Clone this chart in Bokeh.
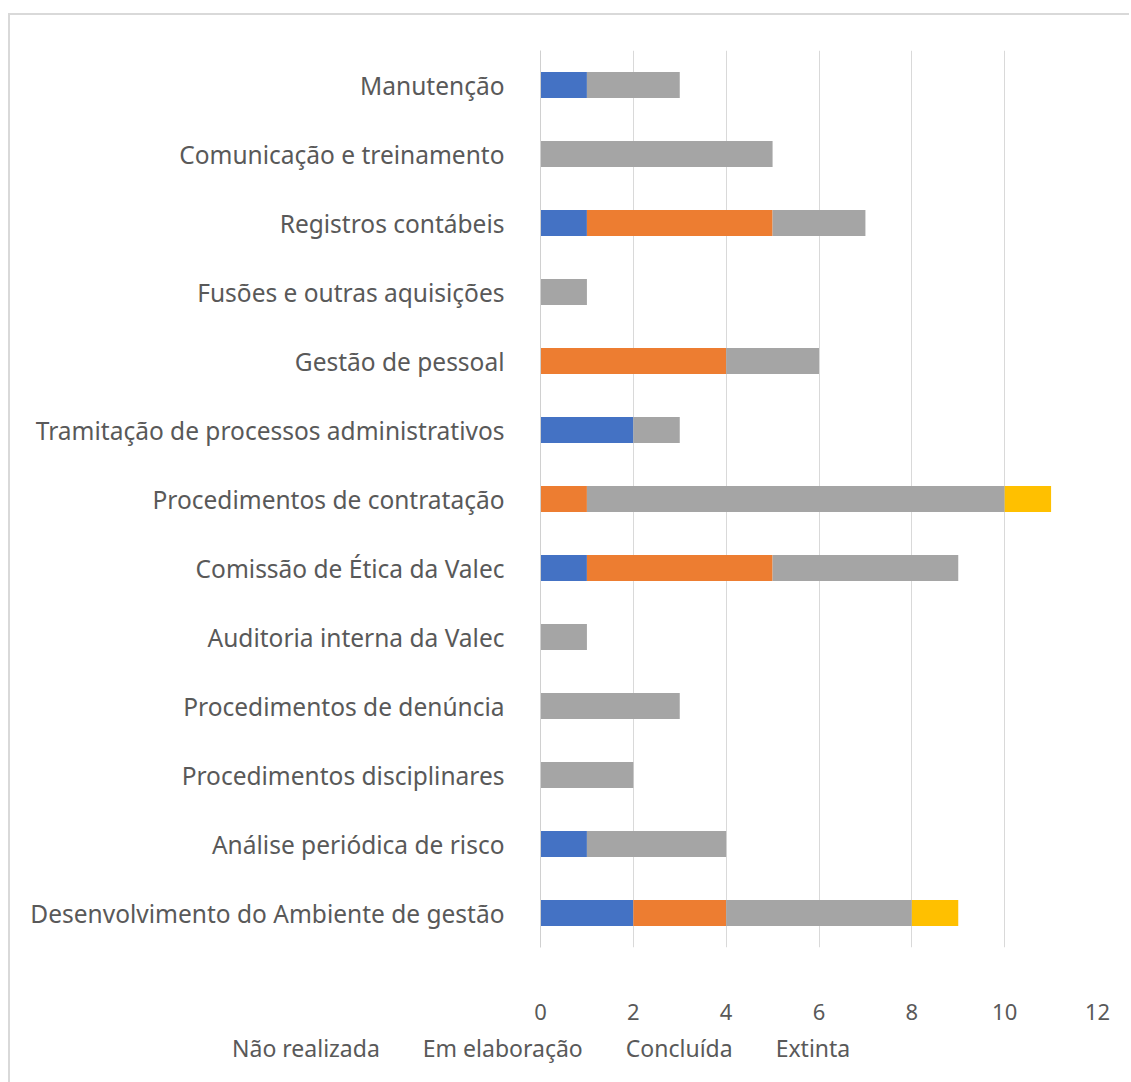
from bokeh.plotting import figure
from bokeh.models import Legend, LegendItem, FactorRange, Range1d, FixedTicker
from bokeh.embed import file_html
from bokeh.resources import INLINE

categories = [
    "Desenvolvimento do Ambiente de gestão",
    "Análise periódica de risco",
    "Procedimentos disciplinares",
    "Procedimentos de denúncia",
    "Auditoria interna da Valec",
    "Comissão de Ética da Valec",
    "Procedimentos de contratação",
    "Tramitação de processos administrativos",
    "Gestão de pessoal",
    "Fusões e outras aquisições",
    "Registros contábeis",
    "Comunicação e treinamento",
    "Manutenção",
]
nao_realizada = [2, 1, 0, 0, 0, 1, 0, 2, 0, 0, 1, 0, 1]
em_elaboracao = [2, 0, 0, 0, 0, 4, 1, 0, 4, 0, 4, 0, 0]
concluida     = [4, 3, 2, 3, 1, 4, 9, 1, 2, 1, 2, 5, 2]
extinta       = [1, 0, 0, 0, 0, 0, 1, 0, 0, 0, 0, 0, 0]
series_names = ["Não realizada", "Em elaboração", "Concluída", "Extinta"]
series_keys = ["nr", "ee", "co", "ex"]
colors = ["#4472C4", "#ED7D31", "#A5A5A5", "#FFC000"]
x_ticks = [0, 2, 4, 6, 8, 10, 12]

FONT = "Noto Sans"
TXT = "#595959"
BORDER = "2px solid #d9d9d9"

data = dict(cat=categories, nr=nao_realizada, ee=em_elaboracao, co=concluida, ex=extinta)

p = figure(
    width=1121, height=1017,
    y_range=FactorRange(factors=categories, range_padding=0),
    x_range=Range1d(0, 12),
    output_backend="svg", toolbar_location=None,
    min_border_left=530, min_border_right=34, min_border_top=35, min_border_bottom=85,
    margin=(13, 0, 0, 8),
    styles={"border-top": BORDER, "border-left": BORDER},
)
p.outline_line_color = None
p.background_fill_color = "white"
p.border_fill_color = "white"

renderers = p.hbar_stack(series_keys, y="cat", height=0.38, color=colors,
                         source=data, line_color=None)

p.xaxis.ticker = FixedTicker(ticks=x_ticks)
p.xaxis.axis_line_color = None
p.xaxis.major_tick_line_color = None
p.xaxis.minor_tick_line_color = None
p.xaxis.major_label_standoff = 50
p.xaxis.major_label_text_font = FONT
p.xaxis.major_label_text_font_size = "22px"
p.xaxis.major_label_text_color = TXT

p.yaxis.axis_line_color = "#d0d0d0"
p.yaxis.axis_line_width = 1
p.yaxis.major_tick_line_color = None
p.yaxis.minor_tick_line_color = None
p.yaxis.major_label_standoff = 30
p.yaxis.major_label_text_font = FONT
p.yaxis.major_label_text_font_size = "24.5px"
p.yaxis.major_label_text_color = TXT

p.xgrid.grid_line_color = "#d9d9d9"
p.ygrid.grid_line_color = None

# legend strip as a separate root (swatches only, no data drawn)
p2 = figure(
    width=1121, height=52,
    x_range=Range1d(0, 1), y_range=Range1d(0, 1),
    x_axis_type=None, y_axis_type=None,
    output_backend="svg", toolbar_location=None,
    min_border=0, margin=(0, 0, 0, 8),
    styles={"border-left": BORDER},
)
p2.outline_line_color = None
p2.grid.visible = False
swatches = [p2.hbar(y=[], right=[], height=0.5, color=c, line_color=None) for c in colors]

legend = Legend(
    items=[LegendItem(label=n, renderers=[r]) for n, r in zip(series_names, swatches)],
    orientation="horizontal", location=(203, 18),
    label_text_font=FONT, label_text_font_size="23px", label_text_color=TXT,
    glyph_width=13, glyph_height=13, spacing=24, label_standoff=6,
    border_line_color=None, background_fill_alpha=0, margin=0, padding=0,
)
p2.add_layout(legend, "center")

open("out.html", "w").write(file_html([p, p2], INLINE))
